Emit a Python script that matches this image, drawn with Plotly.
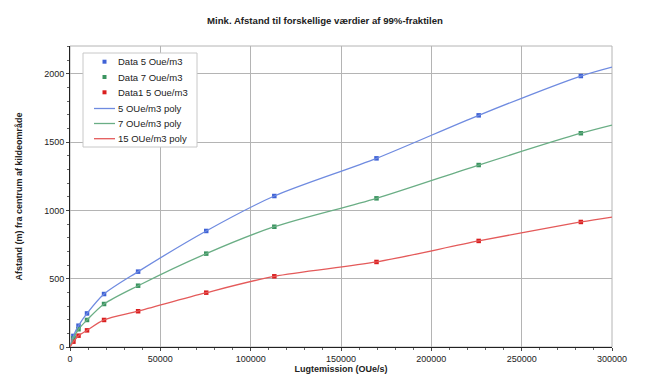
import plotly.graph_objects as go

# Emission values (OUe/s)
emission = [1885, 4712, 9425, 18850, 37700, 75400, 113100, 169650, 226200, 282750]
# Distances (m)
data_5 = [81, 156, 246, 388, 552, 850, 1106, 1382, 1697, 1985]
data_7 = [64, 130, 198, 315, 449, 684, 881, 1089, 1333, 1566]
data_15 = [39, 83, 122, 198, 262, 398, 518, 623, 777, 916]

# Poly curve points
poly_x = [0, 1885, 4712, 9425, 18850, 37700, 75400, 113100, 169650, 226200, 282750, 300000]
poly_5 = [0, 81, 156, 246, 388, 552, 850, 1106, 1382, 1697, 1985, 2051]
poly_7 = [0, 64, 130, 198, 315, 449, 684, 881, 1089, 1333, 1566, 1626]
poly_15 = [0, 39, 83, 122, 198, 262, 398, 518, 623, 777, 916, 952]

marker_names = ["Data 5 Oue/m3", "Data 7 Oue/m3", "Data1 5 Oue/m3"]
line_names = ["5 OUe/m3 poly", "7 OUe/m3 poly", "15 OUe/m3 poly"]

blue = "#3F62D6"
green = "#3B9460"
red = "#DA1E1E"
lblue = "#6F8BE0"
lgreen = "#6AAE85"
lred = "#E45A5A"

fig = go.Figure()
for y, name, c in zip([data_5, data_7, data_15], marker_names, [blue, green, red]):
    fig.add_trace(go.Scatter(x=emission, y=y, mode="markers", name=name, showlegend=False,
                             marker=dict(symbol="square", size=4.5, color=c)))
for y, name, c in zip([poly_5, poly_7, poly_15], line_names, [lblue, lgreen, lred]):
    fig.add_trace(go.Scatter(x=poly_x, y=y, mode="lines", name=name, showlegend=False,
                             line=dict(color=c, width=1.3, shape="spline", smoothing=0.8)))

font = "Liberation Sans, Arial, sans-serif"

# page offset (browser body margin)
OFF = 8
W, H = 650, 389
# plot area in page pixels: x 70..612, y 46..347
L, R, T, B = 70 - OFF, 612 - OFF, 46 - OFF, 347 - OFF
def px(x):
    return (x - OFF - L) / (R - L)
def py(y):
    return (B - (y - OFF)) / (B - T)

# custom compact legend (like the reference)
fig.add_shape(type="rect", xref="paper", yref="paper", x0=px(83), x1=px(197), y0=py(147), y1=py(53),
              line=dict(color="#C8C8C8", width=1), fillcolor="white", layer="above")
rows = [61.7, 77, 92.3, 108.5, 123.5, 138.7]
for i, (name, c) in enumerate(zip(marker_names, [blue, green, red])):
    yy = rows[i]
    fig.add_shape(type="rect", xref="paper", yref="paper", x0=px(102.5), x1=px(106.5),
                  y0=py(yy + 2), y1=py(yy - 2), line=dict(width=0), fillcolor=c, layer="above")
    fig.add_annotation(text=name, xref="paper", yref="paper", x=px(116), y=py(yy),
                       xanchor="left", yanchor="middle", showarrow=False,
                       font=dict(family=font, size=9.5, color="#222"))
for j, (name, c) in enumerate(zip(line_names, [lblue, lgreen, lred])):
    yy = rows[3 + j]
    fig.add_shape(type="line", xref="paper", yref="paper", x0=px(94), x1=px(115),
                  y0=py(yy), y1=py(yy), line=dict(color=c, width=1.3), layer="above")
    fig.add_annotation(text=name, xref="paper", yref="paper", x=px(115.5), y=py(yy),
                       xanchor="left", yanchor="middle", showarrow=False,
                       font=dict(family=font, size=9.5, color="#222"))

fig.update_layout(
    width=W, height=H,
    margin=dict(l=L, r=W - R, t=T, b=H - B, autoexpand=False),
    paper_bgcolor="white", plot_bgcolor="white",
    font=dict(family=font, size=9, color="#222"),
    title=dict(text="<b>Mink. Afstand til forskellige værdier af 99%-fraktilen</b>",
               x=(325 - OFF) / W, xanchor="center", xref="container",
               y=1 - (21 - OFF) / H, yanchor="middle",
               font=dict(family=font, size=9.6, color="#222")),
    showlegend=False,
    xaxis=dict(range=[0, 300000], dtick=50000, tickformat="d", automargin=False,
               showgrid=True, gridcolor="#B4B4B4", gridwidth=1,
               showline=True, linecolor="#222", linewidth=1, mirror=False,
               ticks="outside", ticklen=3, tickcolor="#444",
               minor=dict(ticks="outside", ticklen=2, dtick=10000, tickcolor="#666", showgrid=False),
               zeroline=False,
               title=dict(text="<b>Lugtemission (OUe/s)</b>", standoff=2,
                          font=dict(family=font, size=9, color="#222"))),
    yaxis=dict(range=[0, 2205], dtick=500, tickformat="d", automargin=False,
               showgrid=True, gridcolor="#B4B4B4", gridwidth=1,
               showline=True, linecolor="#222", linewidth=1, mirror=False,
               ticks="outside", ticklen=3, tickcolor="#444",
               minor=dict(ticks="outside", ticklen=2, dtick=100, tickcolor="#666", showgrid=False),
               zeroline=False,
               title=dict(text="<b>Afstand (m) fra centrum af kildeområde</b>", standoff=20,
                          font=dict(family=font, size=9, color="#222"))),
)
# plot border (top/right)
fig.add_shape(type="rect", xref="paper", yref="paper", x0=0, y0=0, x1=1, y1=1,
              line=dict(color="#B4B4B4", width=1), layer="below")

fig.write_html("out.html")
